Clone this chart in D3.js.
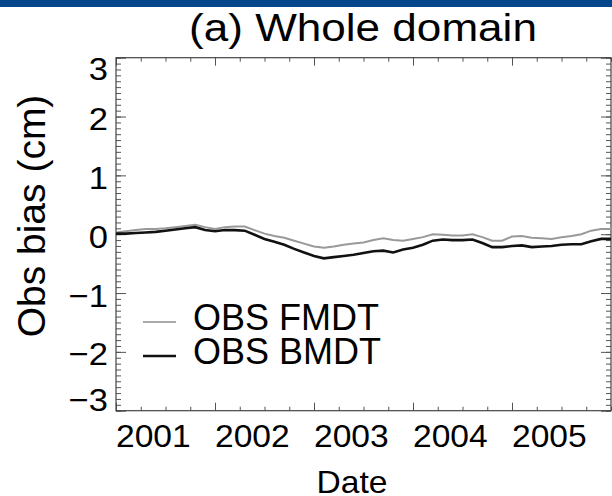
<!DOCTYPE html>
<html>
<head>
<meta charset="utf-8">
<script src="https://cdn.jsdelivr.net/npm/d3@7"></script>
<style>
  html, body { margin: 0; padding: 0; background: #fff; }
  svg { display: block; font-family: "Liberation Sans", Arial, Helvetica, sans-serif; }
</style>
</head>
<body>
<div id="chart"></div>
<script>
// decimal years, sampled every 0.1 yr
const dates = d3.range(0, 51).map(i => 2001 + i / 10);
const fmdt = [0.03, 0.05, 0.07, 0.09, 0.09, 0.10, 0.12, 0.14, 0.16, 0.12,
    0.09, 0.12, 0.13, 0.13, 0.07, 0.01, -0.03, -0.06, -0.11, -0.16,
    -0.21, -0.23, -0.21, -0.18, -0.16, -0.14, -0.10, -0.07, -0.10, -0.11,
    -0.08, -0.05, 0.00, -0.01, -0.02, -0.02, 0.00, -0.05, -0.11, -0.11,
    -0.04, -0.03, -0.06, -0.07, -0.08, -0.05, -0.03, 0.00, 0.06, 0.09, 0.09];
const bmdt = [0.01, 0.01, 0.02, 0.03, 0.04, 0.06, 0.08, 0.10, 0.12, 0.07,
    0.05, 0.07, 0.07, 0.06, -0.01, -0.08, -0.13, -0.18, -0.25, -0.31,
    -0.37, -0.41, -0.39, -0.37, -0.35, -0.32, -0.29, -0.28, -0.31, -0.26,
    -0.23, -0.18, -0.11, -0.09, -0.10, -0.10, -0.09, -0.15, -0.22, -0.22,
    -0.20, -0.19, -0.22, -0.21, -0.20, -0.18, -0.17, -0.17, -0.12, -0.08, -0.08];
const yearTicks = [2001, 2002, 2003, 2004, 2005];
const yTicks = [-3, -2, -1, 0, 1, 2, 3];
const seriesNames = ['OBS FMDT', 'OBS BMDT'];

const width = 612;
const height = 496;
const box = { left: 116, right: 611, top: 57.7, bottom: 410.7 };

const svg = d3.select('#chart')
    .append('svg')
    .attr('width', width)
    .attr('height', height);

// blue banner strip
svg.append('rect')
    .attr('x', 0).attr('y', 0)
    .attr('width', width).attr('height', 7)
    .attr('fill', '#03468c');

const x = d3.scaleLinear().domain([2001, 2006]).range([box.left, box.right]);
const y = d3.scaleLinear().domain([-3, 3]).range([box.bottom, box.top]);

function stretchedText(g, tx, ty, str, size, sx, anchor) {
    return g.append('text')
        .attr('transform', `translate(${tx},${ty}) scale(${sx},1)`)
        .attr('text-anchor', anchor)
        .style('font-size', `${size}px`)
        .attr('fill', '#000')
        .text(str);
}

// ticks (all four sides, pointing inwards)
const quarterTicks = d3.range(2001, 2006.01, 0.25);
const tenthTicks = d3.range(-3, 3.001, 0.1);

function tickAxis(axis, tx, ty) {
    const g = svg.append('g')
        .attr('transform', `translate(${tx},${ty})`)
        .call(axis.tickFormat(() => ''));
    g.select('.domain').remove();
    g.selectAll('line').attr('stroke', '#555').attr('stroke-width', 1);
}

tickAxis(d3.axisBottom(x).tickValues(quarterTicks).tickSize(-4), 0, box.bottom);
tickAxis(d3.axisBottom(x).tickValues(yearTicks).tickSize(-8), 0, box.bottom);
tickAxis(d3.axisTop(x).tickValues(quarterTicks).tickSize(-4), 0, box.top);
tickAxis(d3.axisTop(x).tickValues(yearTicks).tickSize(-8), 0, box.top);
tickAxis(d3.axisLeft(y).tickValues(tenthTicks).tickSize(-5), box.left, 0);
tickAxis(d3.axisLeft(y).tickValues(yTicks).tickSize(-10), box.left, 0);
tickAxis(d3.axisRight(y).tickValues(tenthTicks).tickSize(-5), box.right, 0);
tickAxis(d3.axisRight(y).tickValues(yTicks).tickSize(-10), box.right, 0);

svg.append('rect')
    .attr('x', box.left).attr('y', box.top)
    .attr('width', box.right - box.left)
    .attr('height', box.bottom - box.top)
    .attr('fill', 'none')
    .attr('stroke', '#444')
    .attr('stroke-width', 1.2);

// series
const line = d3.line()
    .x((d, i) => x(dates[i]))
    .y(d => y(d));

svg.append('path')
    .datum(fmdt)
    .attr('d', line)
    .attr('fill', 'none')
    .attr('stroke', '#999')
    .attr('stroke-width', 2);

svg.append('path')
    .datum(bmdt)
    .attr('d', line)
    .attr('fill', 'none')
    .attr('stroke', '#111')
    .attr('stroke-width', 2.6);

// tick labels
const labels = svg.append('g');
yearTicks.forEach(yr => stretchedText(labels, x(yr), 447, String(yr), 32, 1.05, 'start'));
const fmtY = d3.format('d');
yTicks.forEach((v) => {
    const cy = Math.min(Math.max(y(v) + 2, box.top + 11), box.bottom - 11);
    stretchedText(labels, 108, cy + 11.5, fmtY(v), 32, 1.08, 'end');
});

// titles
stretchedText(svg, 363, 41, '(a) Whole domain', 38, 1.16, 'middle');
stretchedText(svg, 352, 493, 'Date', 32, 1.05, 'middle');
svg.append('text')
    .attr('transform', 'translate(45,216) rotate(-90)')
    .attr('text-anchor', 'middle')
    .style('font-size', '39px')
    .text('Obs bias (cm)');

// legend
const legendColors = ['#aaa', '#111'];
const legendWidths = [2, 2.6];
const legend = svg.append('g');
seriesNames.forEach((name, i) => {
    const base = 330 + i * 34;
    legend.append('line')
        .attr('x1', 143).attr('x2', 176)
        .attr('y1', base - 8).attr('y2', base - 8)
        .attr('stroke', legendColors[i])
        .attr('stroke-width', legendWidths[i]);
    stretchedText(legend, 193, base, name, 36, 1, 'start');
});
</script>
</body>
</html>
